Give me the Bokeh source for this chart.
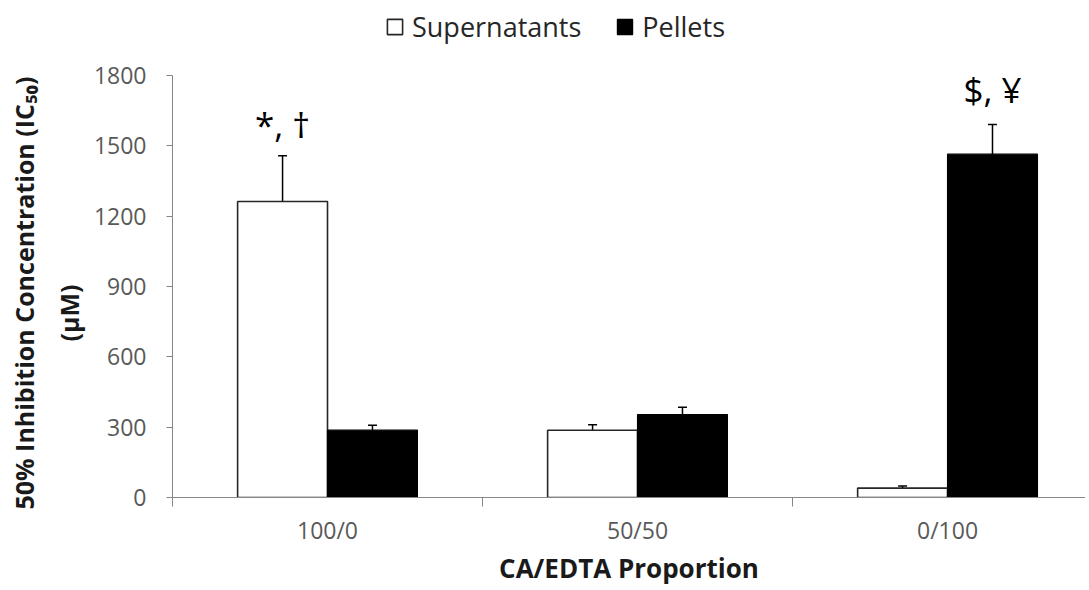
import numpy as np
from bokeh.plotting import figure
from bokeh.models import (ColumnDataSource, Range1d, FixedTicker, Whisker, TeeHead,
                          Legend, LegendItem, Title)
from bokeh.core.properties import value
from bokeh.embed import file_html
from bokeh.resources import INLINE

# ---- data ----
categories = ["100/0", "50/50", "0/100"]
supernatants = [1262, 287, 40]
supernatants_err = [195, 23, 9]
pellets = [287, 354, 1464]
pellets_err = [21, 31, 126]
annot_text = ["*, \u2020", None, "$, \u00a5"]   # annotation per category
annot_series = ["sup", None, "pel"]
y_ticks = [0, 300, 600, 900, 1200, 1500, 1800]
x_title = "CA/EDTA Proportion"
y_title_1 = "50% Inhibition Concentration (IC\u2085\u2080)"
y_title_2 = "(\u00b5M)"

FONT = "Open Sans"
AXIS_COLOR = "#868686"
LABEL_COLOR = "#595959"
TITLE_COLOR = "#1a1a1a"

idx = np.arange(len(categories))
centers = idx + 0.5
bw = 0.29
off = 0.145

# plot area: axis 0..1800 spans 423 px; frame extended upward to hold the legend
y_axis_max = y_ticks[-1]
y_view_max = y_axis_max * 498.0 / 423.0

p = figure(width=1085, height=588, output_backend="svg", toolbar_location=None,
           x_range=Range1d(0, 2.945), y_range=Range1d(0, y_view_max),
           min_border_left=172, min_border_right=0, min_border_top=0,
           min_border_bottom=90)
p.outline_line_color = None
p.xgrid.visible = False
p.ygrid.visible = False
p.background_fill_color = "white"
p.border_fill_color = "white"

src_s = ColumnDataSource(dict(x=centers - off, top=supernatants,
                              upper=np.array(supernatants) + np.array(supernatants_err),
                              lower=np.array(supernatants) - np.array(supernatants_err)))
src_p = ColumnDataSource(dict(x=centers + off, top=pellets,
                              upper=np.array(pellets) + np.array(pellets_err),
                              lower=np.array(pellets) - np.array(pellets_err)))

r_s = p.vbar(x="x", top="top", width=bw, source=src_s, fill_color="white",
             line_color="#262626", line_width=1.6)
r_p = p.vbar(x="x", top="top", width=bw, source=src_p, fill_color="black",
             line_color="black", line_width=1.2)

for src in (src_s, src_p):
    w = Whisker(base="x", upper="upper", lower="lower", source=src,
                line_color="black", line_width=1.5,
                upper_head=TeeHead(size=9, line_color="black", line_width=1.5),
                lower_head=TeeHead(size=9, line_color="black", line_width=1.5))
    p.add_layout(w)

# annotations above error bars
ax, ay, at = [], [], []
for i, t in enumerate(annot_text):
    if t is None:
        continue
    if annot_series[i] == "sup":
        ax.append(centers[i] - off)
        ay.append(supernatants[i] + supernatants_err[i] + 135)
    else:
        ax.append(centers[i] + off)
        ay.append(pellets[i] + pellets_err[i] + 150)
    at.append(t)
p.text(x=ax, y=ay, text=at, text_align="center", text_baseline="alphabetic",
       text_font=value(FONT), text_font_size="35px", text_color="black")

# axes
p.yaxis.ticker = FixedTicker(ticks=y_ticks)
p.yaxis.bounds = (0, y_axis_max)
p.yaxis.axis_line_color = AXIS_COLOR
p.yaxis.major_tick_line_color = AXIS_COLOR
p.yaxis.major_tick_out = 6
p.yaxis.major_tick_in = 0
p.yaxis.minor_tick_line_color = None
p.yaxis.major_label_text_font = FONT
p.yaxis.major_label_text_font_size = "23px"
p.yaxis.major_label_text_color = LABEL_COLOR
p.yaxis.major_label_standoff = 20

# y-axis title as two stacked side titles (inner line first)
t2 = Title(text=y_title_2, align="left", offset=156, standoff=9,
           text_font=FONT, text_font_style="bold", text_font_size="25px",
           text_color=TITLE_COLOR)
t1 = Title(text=y_title_1, align="left", offset=-12, standoff=9,
           text_font=FONT, text_font_style="bold", text_font_size="25px",
           text_color=TITLE_COLOR)
p.add_layout(t2, "left")
p.add_layout(t1, "left")

p.xaxis.ticker = FixedTicker(ticks=list(centers), minor_ticks=[0, 1, 2, 3])
p.xaxis.major_label_overrides = {float(c): lab for c, lab in zip(centers, categories)}
p.xaxis.axis_line_color = AXIS_COLOR
p.xaxis.major_tick_line_color = None
p.xaxis.major_tick_out = 0
p.xaxis.major_tick_in = 0
p.xaxis.minor_tick_line_color = AXIS_COLOR
p.xaxis.minor_tick_out = 9
p.xaxis.minor_tick_in = 0
p.xaxis.major_label_text_font = FONT
p.xaxis.major_label_text_font_size = "23px"
p.xaxis.major_label_text_color = LABEL_COLOR
p.xaxis.major_label_standoff = 7
p.xaxis.axis_label = x_title
p.xaxis.axis_label_text_font = FONT
p.xaxis.axis_label_text_font_style = "bold"
p.xaxis.axis_label_text_font_size = "26px"
p.xaxis.axis_label_text_color = TITLE_COLOR
p.xaxis.axis_label_standoff = 1

legend = Legend(items=[LegendItem(label="Supernatants", renderers=[r_s]),
                       LegendItem(label="Pellets", renderers=[r_p])],
                orientation="horizontal", location=(213, 452),
                label_text_font=FONT, label_text_font_size="27px",
                label_text_color="#262626", glyph_width=19, glyph_height=19,
                label_standoff=8, spacing=34, padding=0, margin=0,
                border_line_color=None, background_fill_alpha=0)
p.add_layout(legend, "center")

open("out.html", "w").write(file_html(p, INLINE))
